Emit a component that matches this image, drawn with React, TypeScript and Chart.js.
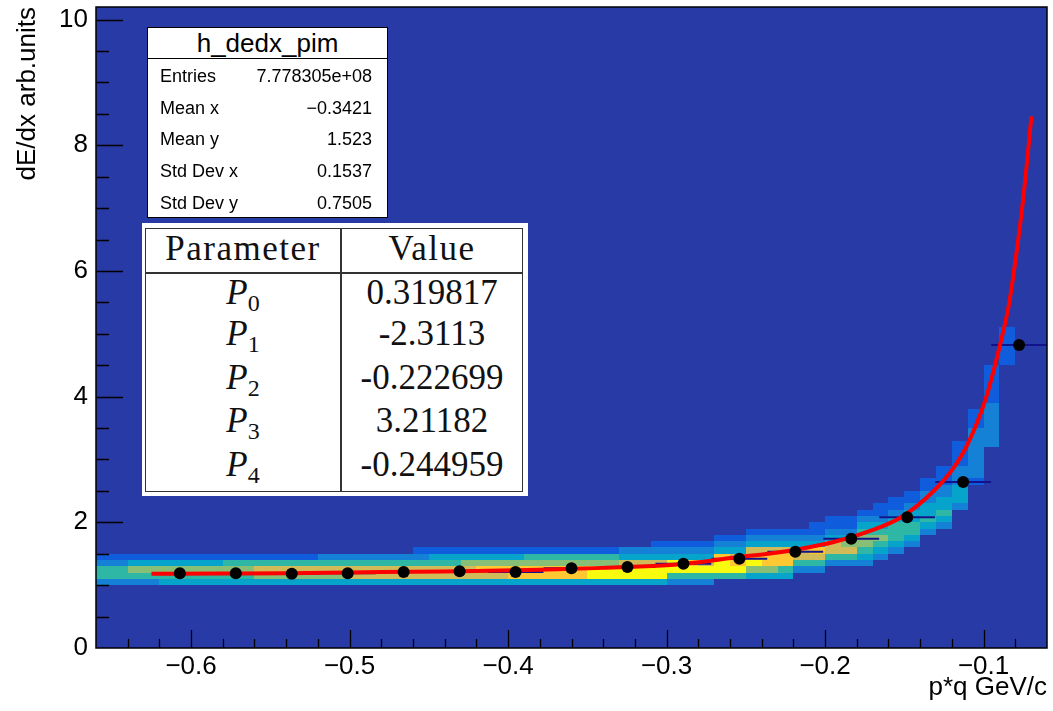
import React, { useEffect, useRef } from "react";
import { Chart, registerables } from "chart.js";

Chart.register(...registerables);

// ---------------- data ----------------
const xMin = -0.66;
const xMax = -0.06;
const yMin = 0;
const yMax = 10.2;
const xTickValues = [-0.6, -0.5, -0.4, -0.3, -0.2, -0.1];
const yTickValues = [0, 2, 4, 6, 8, 10];
const xMinorStep = 0.02;
const yMinorStep = 0.5;

// 2D histogram (colz): x bins of 0.01 starting at xMin, y bins of 0.1 from 0
const heatBinWidthX = 0.01;
const heatBinHeightY = 0.1;
// lowest filled y-bin index of every x column
const heatBaseRow = [
  10, 10, 10, 10, 10, 10, 10, 10, 10, 10,
  10, 10, 10, 10, 10, 10, 10, 10, 10, 10,
  10, 10, 10, 10, 10, 10, 10, 10, 10, 10,
  10, 10, 10, 10, 10, 10, 10, 10, 10, 11,
  11, 11, 11, 11, 12, 12, 13, 13, 13, 14,
  15, 16, 18, 19, 22, 26, 32, 45, 0, 0,
];
// colour level (1..8) of each filled cell, from the base row upwards
const heatLevels = [
  "24421", "24421", "24531", "24531", "34531", "34531", "34531", "34531", "34541", "34541",
  "35641", "35641", "35641", "35641", "35642", "35642", "36642", "36642", "36642", "36642",
  "366421", "366431", "366431", "366531", "367531", "367531", "377531", "377541", "377541", "377541",
  "377541", "388541", "388541", "388632", "388632", "3886321", "2488321", "2487321", "2486321", "4887321",
  "4876321", "35876321", "35776321", "34776321", "2466321", "24673211", "24663211", "24653211", "234554321", "234543211",
  "234443211", "234433211", "234332211", "2343322111", "23332221111", "122222222111", "2222222111111", "111111", "", "",
];

// profile points
const profileX = [
  -0.6071, -0.5718, -0.5365, -0.5012, -0.4659, -0.4306, -0.3953, -0.36,
  -0.3247, -0.2894, -0.2541, -0.2188, -0.1835, -0.1482, -0.1129, -0.0776,
];
const profileY = [
  1.19, 1.19, 1.18, 1.19, 1.21, 1.22, 1.21, 1.27,
  1.29, 1.34, 1.42, 1.53, 1.74, 2.08, 2.64, 4.82,
];
const profileXErr = [
  0.0176, 0.0176, 0.0176, 0.0176, 0.0176, 0.0176, 0.0176, 0.0176,
  0.0176, 0.0176, 0.0176, 0.0176, 0.0176, 0.0176, 0.0176, 0.0176,
];

// fit curve
const fitX = [
  -0.625, -0.58, -0.54, -0.5, -0.46, -0.42, -0.38, -0.34, -0.3, -0.278, -0.257, -0.236, -0.215,
  -0.194, -0.173, -0.152, -0.131, -0.12, -0.11, -0.099, -0.089, -0.084, -0.08, -0.075, -0.0698,
];
const fitY = [
  1.18, 1.185, 1.19, 1.2, 1.215, 1.225, 1.245, 1.275, 1.317, 1.37, 1.44, 1.5, 1.58,
  1.69, 1.85, 2.08, 2.51, 2.83, 3.25, 3.94, 4.89, 5.47, 6.15, 7.15, 8.46,
];

const histName = "h_dedx_pim";
const statLabels = ["Entries", "Mean x", "Mean y", "Std Dev x", "Std Dev y"];
const statValues = ["7.778305e+08", "\u22120.3421", "1.523", "0.1537", "0.7505"];
const paramIndex = ["0", "1", "2", "3", "4"];
const paramValues = ["0.319817", "-2.3113", "-0.222699", "3.21182", "-0.244959"];

const xTitle = "p*q GeV/c";
const yTitle = "dE/dx arb.units";

// ---------------- style ----------------
const BG = "rgb(40,58,166)";
const PALETTE = [
  "rgb(15,92,221)",
  "rgb(20,129,214)",
  "rgb(6,164,202)",
  "rgb(46,183,164)",
  "rgb(135,191,119)",
  "rgb(209,187,89)",
  "rgb(254,200,50)",
  "rgb(249,251,14)",
];
const SANS = "'Liberation Sans', Arial, Helvetica, sans-serif";
const SERIF = "'Liberation Serif', 'Times New Roman', serif";
const AXIS_FONT = 26;

const heatPlugin = {
  id: "heatmap",
  beforeDatasetsDraw(chart: any) {
    const { ctx, chartArea: a, scales } = chart;
    const x = scales.x;
    const y = scales.y;
    ctx.save();
    ctx.fillStyle = BG;
    ctx.fillRect(a.left, a.top, a.right - a.left, a.bottom - a.top);
    heatLevels.forEach((col, i) => {
      const x0 = Math.round(x.getPixelForValue(xMin + i * heatBinWidthX));
      const x1 = Math.round(x.getPixelForValue(xMin + (i + 1) * heatBinWidthX));
      for (let j = 0; j < col.length; j++) {
        const lv = Number(col[j]);
        if (!lv) continue;
        const r = heatBaseRow[i] + j;
        const yb = Math.round(y.getPixelForValue(r * heatBinHeightY));
        const yt = Math.round(y.getPixelForValue((r + 1) * heatBinHeightY));
        ctx.fillStyle = PALETTE[lv - 1];
        ctx.fillRect(x0, yt, x1 - x0, yb - yt);
      }
    });
    ctx.restore();
  },
};

const framePlugin = {
  id: "rootframe",
  afterDraw(chart: any) {
    const { ctx, chartArea: a, scales } = chart;
    const x = scales.x;
    const y = scales.y;
    ctx.save();
    ctx.strokeStyle = "#000";
    ctx.lineWidth = 1.3;
    ctx.beginPath();
    const nx0 = Math.ceil(xMin / xMinorStep - 1e-6);
    const nx1 = Math.floor(xMax / xMinorStep + 1e-6);
    for (let n = nx0; n <= nx1; n++) {
      const v = n * xMinorStep;
      if (v <= xMin + 1e-6 || v >= xMax - 1e-6) continue;
      const isMajor = Math.abs(v * 10 - Math.round(v * 10)) < 1e-6;
      const px = Math.round(x.getPixelForValue(v)) + 0.5;
      ctx.moveTo(px, a.bottom);
      ctx.lineTo(px, a.bottom - (isMajor ? 18 : 9));
    }
    const ny1 = Math.floor(yMax / yMinorStep + 1e-6);
    for (let n = 1; n <= ny1; n++) {
      const v = n * yMinorStep;
      const isMajor = Math.abs(v / 2 - Math.round(v / 2)) < 1e-6;
      const py = Math.round(y.getPixelForValue(v)) + 0.5;
      ctx.moveTo(a.left, py);
      ctx.lineTo(a.left + (isMajor ? 27 : 13), py);
    }
    ctx.stroke();
    ctx.lineWidth = 1.5;
    ctx.strokeRect(a.left, a.top, a.right - a.left, a.bottom - a.top);
    ctx.restore();
  },
};

function fmtX(v: number) {
  const s = Math.abs(v).toFixed(1);
  return (v < 0 ? "\u2212" : "") + s;
}

export default function App() {
  const ref = useRef<HTMLCanvasElement | null>(null);

  useEffect(() => {
    if (!ref.current) return;
    const errSegments: any[] = [];
    profileX.forEach((px, i) => {
      errSegments.push({ x: px - profileXErr[i], y: profileY[i] });
      errSegments.push({ x: px + profileXErr[i], y: profileY[i] });
      errSegments.push({ x: px, y: null });
    });
    const chart = new Chart(ref.current, {
      type: "line",
      data: {
        datasets: [
          {
            label: "profile",
            data: profileX.map((px, i) => ({ x: px, y: profileY[i] })),
            showLine: false,
            pointRadius: 6,
            pointBackgroundColor: "#000",
            pointBorderWidth: 0,
            pointBorderColor: "#000",
            order: 0,
          } as any,
          {
            label: "fit",
            data: fitX.map((fx, i) => ({ x: fx, y: fitY[i] })),
            borderColor: "#ff0000",
            borderWidth: 4,
            pointRadius: 0,
            cubicInterpolationMode: "monotone",
            order: 1,
          } as any,
          {
            label: "xerr",
            data: errSegments,
            borderColor: "#12128c",
            borderWidth: 2,
            pointRadius: 0,
            spanGaps: false,
            order: 2,
          } as any,
        ],
      },
      options: {
        responsive: false,
        animation: false,
        events: [],
        layout: { padding: { left: 0, top: 7, right: 5, bottom: 0 } },
        plugins: {
          legend: { display: false },
          tooltip: { enabled: false },
        },
        scales: {
          x: {
            type: "linear",
            min: xMin,
            max: xMax,
            grid: { display: false, drawTicks: false },
            border: { display: false },
            afterBuildTicks: (s: any) => {
              s.ticks = xTickValues.map((v) => ({ value: v }));
            },
            afterFit: (s: any) => {
              s.height = 63;
              s.paddingLeft = 0;
              s.paddingRight = 0;
            },
            ticks: {
              autoSkip: false,
              maxRotation: 0,
              padding: 3,
              color: "#000",
              font: { family: SANS, size: AXIS_FONT },
              callback: (v: any) => fmtX(Number(v)),
            },
            title: {
              display: true,
              text: xTitle,
              align: "end",
              color: "#000",
              font: { family: SANS, size: AXIS_FONT },
              padding: { top: 0, bottom: 8 },
            },
          },
          y: {
            type: "linear",
            min: yMin,
            max: yMax,
            grid: { display: false, drawTicks: false },
            border: { display: false },
            afterBuildTicks: (s: any) => {
              s.ticks = yTickValues.map((v) => ({ value: v }));
            },
            afterFit: (s: any) => {
              s.width = 96;
              s.paddingTop = 0;
              s.paddingBottom = 0;
            },
            ticks: {
              padding: 8,
              color: "#000",
              font: { family: SANS, size: AXIS_FONT },
              callback: (v: any) => String(v),
            },
            title: {
              display: true,
              text: yTitle,
              align: "end",
              color: "#000",
              font: { family: SANS, size: AXIS_FONT },
              padding: { top: 12, bottom: 0 },
            },
          },
        },
      } as any,
      plugins: [heatPlugin, framePlugin],
    });
    return () => chart.destroy();
  }, []);

  const statCenters = [76, 107.5, 139, 171, 202.7];
  const rowCenters = [293, 334, 378, 421, 465];

  return (
    <div
      style={{
        position: "fixed",
        left: 0,
        top: 0,
        width: 1053,
        height: 711,
        background: "#fff",
        overflow: "hidden",
      }}
    >
      <canvas ref={ref} width={1053} height={711} style={{ display: "block", width: 1053, height: 711 }} />

      {/* stats box */}
      <div
        style={{
          position: "absolute",
          left: 147,
          top: 27,
          width: 241,
          height: 191,
          border: "1px solid #000",
          boxSizing: "border-box",
          background: "#fff",
          fontFamily: SANS,
          color: "#000",
        }}
      >
        <div
          style={{
            height: 30,
            lineHeight: "30px",
            textAlign: "center",
            fontSize: 26,
            borderBottom: "1px solid #000",
          }}
        >
          {histName}
        </div>
        {statLabels.map((lab, i) => (
          <div
            key={lab}
            style={{
              position: "absolute",
              left: 12,
              right: 15,
              top: statCenters[i] - 27 - 17,
              height: 32,
              lineHeight: "32px",
              fontSize: 18,
              display: "flex",
              justifyContent: "space-between",
            }}
          >
            <span>{lab}</span>
            <span>{statValues[i]}</span>
          </div>
        ))}
      </div>

      {/* fit parameter table */}
      <div
        style={{
          position: "absolute",
          left: 142,
          top: 223,
          width: 386,
          height: 273,
          background: "#fff",
          fontFamily: SERIF,
          color: "#111",
        }}
      >
        <div
          style={{
            position: "absolute",
            left: 3,
            top: 5,
            width: 378,
            height: 264,
            border: "1.5px solid #333",
            boxSizing: "border-box",
          }}
        />
        <div style={{ position: "absolute", left: 198, top: 5, width: 1.5, height: 264, background: "#333" }} />
        <div style={{ position: "absolute", left: 3, top: 49, width: 378, height: 1.5, background: "#333" }} />
        <div
          style={{
            position: "absolute",
            left: 3,
            width: 196,
            top: 26 - 20,
            height: 40,
            lineHeight: "40px",
            textAlign: "center",
            fontSize: 35,
            letterSpacing: 1.5,
          }}
        >
          Parameter
        </div>
        <div
          style={{
            position: "absolute",
            left: 199,
            width: 182,
            top: 26 - 20,
            height: 40,
            lineHeight: "40px",
            textAlign: "center",
            fontSize: 35,
            letterSpacing: 1.5,
          }}
        >
          Value
        </div>
        {paramIndex.map((p, i) => (
          <React.Fragment key={p}>
            <div
              style={{
                position: "absolute",
                left: 3,
                width: 196,
                top: rowCenters[i] - 223 - 20,
                height: 40,
                lineHeight: "40px",
                textAlign: "center",
                fontSize: 35,
              }}
            >
              <span style={{ fontStyle: "italic" }}>P</span>
              <span style={{ fontSize: 24, position: "relative", top: 7 }}>{p}</span>
            </div>
            <div
              style={{
                position: "absolute",
                left: 199,
                width: 182,
                top: rowCenters[i] - 223 - 20,
                height: 40,
                lineHeight: "40px",
                textAlign: "center",
                fontSize: 35,
              }}
            >
              {paramValues[i]}
            </div>
          </React.Fragment>
        ))}
      </div>
    </div>
  );
}
